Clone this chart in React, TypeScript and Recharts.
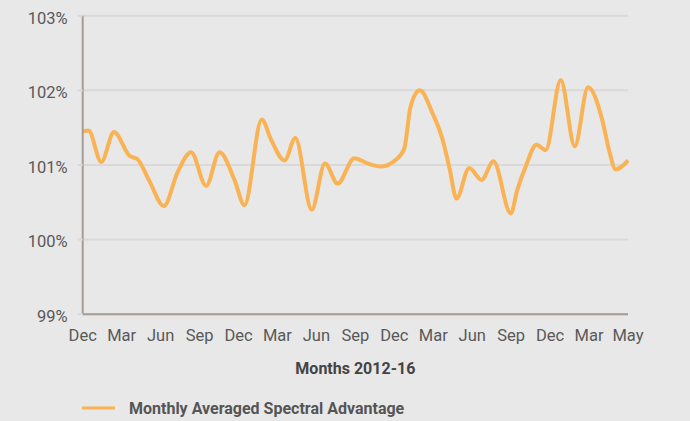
import {
  LineChart,
  Line,
  XAxis,
  YAxis,
  CartesianGrid,
  Legend,
} from "recharts";

// Month offsets from Dec 2012, and the averaged advantage (%)
const monthPos = [
  0, 0.45, 1.43, 2.41, 3.62, 4.2, 5.15, 6.25, 7.33, 8.35, 9.51, 10.54, 11.69,
  12.46, 13.79, 14.51, 15.54, 16.38, 17.64, 18.66, 19.64, 20.92, 21.95, 22.97,
  24.12, 24.77, 25.25, 25.97, 26.95, 27.72, 28.25, 28.79, 29.77, 30.72, 31.64,
  32.97, 33.48, 34.12, 34.95, 35.66, 36.82, 37.9, 38.92, 40.02, 40.54, 41.05,
  42,
];
const advantage = [
  101.45, 101.46, 101.04, 101.44, 101.12, 101.08, 100.78, 100.45, 100.91,
  101.17, 100.72, 101.17, 100.8, 100.46, 101.61, 101.34, 101.06, 101.36, 100.4,
  101.02, 100.75, 101.09, 101.02, 100.98, 101.07, 101.22, 101.78, 102.0,
  101.69, 101.34, 100.96, 100.55, 100.96, 100.8, 101.05, 100.35, 100.67,
  100.98, 101.27, 101.2, 102.14, 101.25, 102.04, 101.6, 101.2, 100.94, 101.06,
];

const tickPos = [0, 3, 6, 9, 12, 15, 18, 21, 24, 27, 30, 33, 36, 39, 42];
const tickLabels = [
  "Dec", "Mar", "Jun", "Sep", "Dec", "Mar", "Jun", "Sep",
  "Dec", "Mar", "Jun", "Sep", "Dec", "Mar", "May",
];
const yTicks = [99, 100, 101, 102, 103];

const data = monthPos.map((m, i) => ({ month: m, value: advantage[i] }));

const FONT = "Roboto, 'Liberation Sans', sans-serif";
const LINE_COLOR = "#f9b254";
const AXIS_COLOR = "#a59d95";
const GRID_COLOR = "#d9d9d9";
const TEXT_COLOR = "#595959";

const LegendContent = () => (
  <div
    style={{
      display: "flex",
      alignItems: "center",
      height: 22,
      paddingLeft: 82,
      fontFamily: FONT,
      fontWeight: "bold",
      fontSize: 16,
      color: "#555",
    }}
  >
    <svg width={33} height={4}>
      <line x1={0} y1={2} x2={33} y2={2} stroke={LINE_COLOR} strokeWidth={3} />
    </svg>
    <span style={{ marginLeft: 14 }}>Monthly Averaged Spectral Advantage</span>
  </div>
);

export default function App() {
  return (
    <div
      style={{
        position: "fixed",
        left: 0,
        top: 0,
        width: 690,
        height: 421,
        background: "#e8e8e8",
      }}
    >
      <LineChart
        width={690}
        height={421}
        data={data}
        margin={{ top: 15.7, right: 62, left: 22.7, bottom: 2 }}
      >
        <CartesianGrid vertical={false} stroke={GRID_COLOR} strokeWidth={2} />
        <XAxis
          dataKey="month"
          type="number"
          domain={[0, 42]}
          ticks={tickPos}
          interval={0}
          tickFormatter={(v) => tickLabels[tickPos.indexOf(v)]}
          height={82.8}
          tickLine={false}
          tickSize={6}
          tickMargin={9}
          axisLine={{ stroke: AXIS_COLOR, strokeWidth: 2 }}
          tick={{ fill: TEXT_COLOR, fontSize: 16.5, fontFamily: FONT }}
          label={{
            value: "Months 2012-16",
            position: "insideBottom",
            offset: 23.5,
            fill: "#444",
            fontSize: 16,
            fontWeight: "bold",
            fontFamily: FONT,
          }}
        />
        <YAxis
          type="number"
          domain={[99, 103]}
          ticks={yTicks}
          interval={0}
          width={60}
          tickFormatter={(v) => `${v}%`}
          tickSize={5}
          tickMargin={10}
          tickLine={{ stroke: GRID_COLOR, strokeWidth: 2 }}
          axisLine={{ stroke: AXIS_COLOR, strokeWidth: 2 }}
          tick={{ fill: TEXT_COLOR, fontSize: 16.5, fontFamily: FONT, dy: 2 }}
        />
        <Legend
          verticalAlign="bottom"
          wrapperStyle={{ left: 0, bottom: 2, width: 690, height: 22 }}
          content={<LegendContent />}
        />
        <Line
          type="monotone"
          dataKey="value"
          stroke={LINE_COLOR}
          strokeWidth={4}
          dot={false}
          isAnimationActive={false}
        />
      </LineChart>
    </div>
  );
}
